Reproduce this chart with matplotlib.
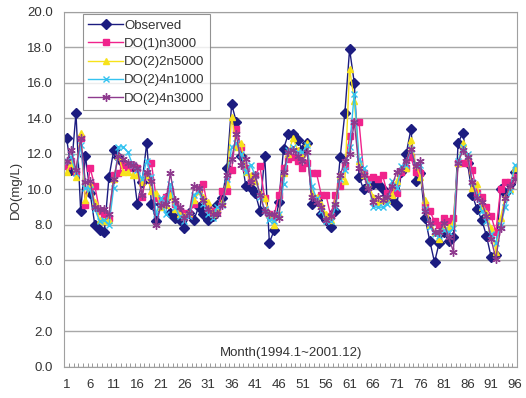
import matplotlib
matplotlib.use("Agg")
import matplotlib.pyplot as plt
import numpy as np

plt.rcParams['font.family'] = ['Liberation Sans', 'DejaVu Sans']

# Monthly DO values, 1994.1 ~ 2001.12 (96 months)
months = np.arange(1, 97)

observed = [
    12.9, 11.1, 14.3, 8.8, 11.9, 9.8, 8.0, 7.7, 7.6, 10.7,
    12.2, 11.8, 11.5, 11.3, 11.3, 9.2, 10.4, 12.6, 9.2, 8.2,
    9.2, 9.5, 8.7, 8.4, 8.3, 7.8, 8.7, 8.3, 9.0, 8.6,
    8.3, 8.5, 9.1, 9.5, 11.2, 14.8, 13.8, 11.9, 10.2, 10.1,
    9.8, 8.8, 11.9, 7.0, 7.7, 9.3, 12.3, 13.1, 13.1, 12.8,
    12.2, 12.6, 9.2, 9.4, 8.6, 8.3, 7.9, 8.8, 11.8, 14.3,
    17.9, 16.0, 10.7, 10.0, 10.2, 10.3, 10.3, 10.0, 9.7, 9.4,
    9.1, 11.0, 12.0, 13.4, 10.5, 10.9, 8.4, 7.1, 5.9, 7.0,
    7.6, 7.1, 7.3, 12.6, 13.2, 11.5, 9.7, 8.9, 8.3, 7.4,
    6.2, 6.3, 10.0, 9.8, 10.3, 11.0,
]

do1_n3000 = [
    11.3, 11.6, 11.0, 12.9, 9.1, 11.2, 10.2, 8.8, 8.6, 8.4,
    10.8, 10.9, 11.4, 11.2, 11.4, 11.2, 9.6, 10.8, 11.5, 9.5,
    9.3, 9.6, 9.9, 9.2, 8.8, 8.7, 8.6, 9.2, 10.0, 10.3,
    8.9, 8.8, 8.8, 9.9, 9.9, 11.1, 13.4, 12.4, 11.2, 10.6,
    10.8, 11.3, 9.5, 8.6, 8.5, 9.7, 11.2, 11.7, 11.8, 11.6,
    11.2, 11.5, 10.9, 10.9, 9.7, 9.7, 8.5, 9.7, 10.2, 11.3,
    13.0, 13.8, 13.8, 10.9, 10.6, 10.7, 10.6, 10.8, 9.8, 10.0,
    9.8, 11.0, 11.2, 11.8, 11.0, 10.9, 9.1, 8.8, 8.2, 8.0,
    8.4, 8.2, 8.4, 11.5, 11.5, 11.5, 11.1, 9.8, 9.6, 9.0,
    8.5, 7.6, 10.0, 10.4, 10.4, 10.7,
]

do2_2n5000 = [
    11.0, 11.5, 10.7, 13.2, 9.4, 10.3, 9.3, 8.3, 8.2, 8.3,
    10.6, 11.9, 11.0, 11.0, 10.8, 10.8, 10.4, 10.8, 9.9, 9.8,
    9.0, 9.1, 9.7, 8.9, 8.6, 8.5, 8.7, 9.4, 9.9, 9.6,
    9.3, 8.6, 8.9, 9.3, 10.3, 14.1, 12.4, 12.6, 11.0, 10.8,
    10.5, 9.8, 9.5, 8.6, 8.0, 8.6, 10.9, 12.0, 12.9, 12.2,
    12.0, 12.6, 9.8, 9.6, 9.2, 8.6, 8.3, 9.3, 10.8, 10.5,
    16.8, 15.0, 11.6, 10.8, 10.3, 9.6, 9.3, 9.4, 9.4, 9.7,
    10.5, 11.2, 11.2, 12.8, 11.4, 10.7, 9.4, 8.0, 7.6, 7.2,
    7.8, 7.9, 8.1, 11.5, 12.6, 11.9, 10.1, 10.3, 9.0, 8.7,
    7.8, 6.5, 8.4, 9.6, 10.0, 11.2,
]

do2_4n1000 = [
    11.6, 11.8, 10.9, 12.5, 10.1, 10.0, 8.9, 8.2, 8.3, 8.0,
    10.1, 12.4, 12.4, 12.1, 11.4, 11.1, 10.6, 11.6, 10.7, 8.6,
    9.5, 8.6, 10.3, 9.0, 8.5, 8.2, 8.5, 9.7, 9.9, 9.2,
    8.6, 8.4, 9.0, 9.1, 10.6, 12.4, 12.6, 12.0, 11.0, 11.4,
    10.8, 9.6, 8.9, 8.3, 8.2, 8.6, 10.3, 12.2, 12.4, 12.1,
    12.1, 12.5, 10.2, 9.5, 8.8, 8.2, 8.2, 9.0, 10.6, 11.1,
    12.4, 15.4, 11.7, 11.2, 10.3, 9.0, 9.0, 9.0, 9.2, 10.5,
    10.1, 11.3, 11.4, 12.3, 11.4, 11.4, 8.9, 7.9, 7.5, 7.4,
    7.7, 7.6, 7.8, 11.6, 12.4, 12.0, 10.4, 9.7, 8.8, 8.2,
    7.5, 7.0, 8.0, 9.0, 9.9, 11.4,
]

do2_4n3000 = [
    11.6, 12.2, 11.1, 12.9, 10.4, 10.5, 9.0, 8.9, 8.9, 8.6,
    10.6, 11.9, 11.7, 11.5, 11.4, 11.2, 9.7, 11.0, 10.5, 8.0,
    9.1, 9.2, 10.9, 9.4, 9.0, 8.4, 8.7, 10.2, 10.1, 9.4,
    8.9, 8.6, 8.6, 9.1, 10.8, 11.7, 13.1, 11.4, 11.7, 10.4,
    10.8, 9.7, 8.8, 8.6, 8.6, 8.4, 11.0, 12.1, 12.2, 11.9,
    11.6, 12.1, 9.6, 9.3, 9.0, 8.3, 8.5, 9.2, 10.8, 11.6,
    12.0, 13.8, 11.2, 10.8, 10.1, 9.3, 9.6, 9.4, 9.6, 10.2,
    11.0, 11.1, 11.6, 12.3, 11.3, 11.6, 8.8, 8.1, 7.6, 7.6,
    8.1, 7.3, 6.5, 11.5, 12.2, 11.8, 10.4, 9.5, 9.3, 8.5,
    7.2, 6.1, 7.8, 9.5, 10.2, 10.6,
]

series = [
    ("Observed", observed, "#1c1c80", "D", 5),
    ("DO(1)n3000", do1_n3000, "#f0238c", "s", 5),
    ("DO(2)2n5000", do2_2n5000, "#f7e21a", "^", 5),
    ("DO(2)4n1000", do2_4n1000, "#35c3f0", "x", 5),
    ("DO(2)4n3000", do2_4n3000, "#8e3a8e", (6, 2, 0), 6),
]

fig = plt.figure(figsize=(5.26, 3.98), dpi=100)
ax = fig.add_axes([0.122, 0.078, 0.861, 0.892])

for name, vals, color, marker, ms in series:
    ax.plot(months, vals, color=color, marker=marker, markersize=ms,
            linewidth=1.0, markeredgewidth=1.0, label=name)

ax.set_xlim(0.5, 96.5)
ax.set_ylim(0, 20)
ax.set_yticks(np.arange(0, 20.1, 2.0))
ax.set_yticklabels([f"{v:.1f}" for v in np.arange(0, 20.1, 2.0)])
ax.yaxis.grid(True, color="#a8a8a8", linewidth=1.0)
ax.set_axisbelow(True)

ax.set_xticks(np.arange(1, 97, 5))
ax.set_xticks(np.arange(0.5, 97, 1), minor=True)
ax.tick_params(axis="x", which="major", length=0, pad=9, labelsize=9.5, labelcolor="#333333")
ax.tick_params(axis="x", which="minor", direction="in", length=3, color="#888888")
ax.tick_params(axis="y", length=0, pad=8, labelsize=9.5, labelcolor="#333333")

for side in ax.spines.values():
    side.set_color("#a0a0a0")

ax.set_ylabel("DO(mg/L)", fontsize=9.5, color="#333333", labelpad=4)
ax.text(0.5, 0.04, "Month(1994.1~2001.12)", transform=ax.transAxes,
        ha="center", va="center", fontsize=9.5, color="#333333")

leg = ax.legend(loc="upper left", bbox_to_anchor=(0.042, 0.993), fontsize=9.5,
                frameon=True, fancybox=False, handlelength=2.6, handletextpad=0.1,
                labelspacing=0.45, borderpad=0.4, borderaxespad=0.0)
leg.get_frame().set_edgecolor("#777777")
leg.get_frame().set_linewidth(0.8)
for t in leg.get_texts():
    t.set_color("#333333")

fig.savefig("out.png", dpi=100)
